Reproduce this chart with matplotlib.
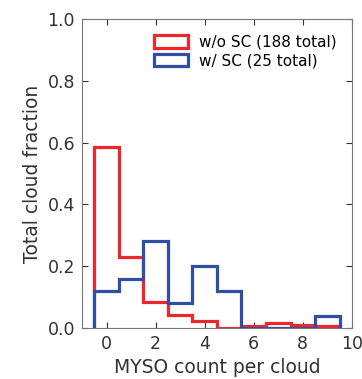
import numpy as np
import matplotlib
matplotlib.use('Agg')
import matplotlib.pyplot as plt

# MYSO counts per cloud, one bin per integer value
counts = np.arange(0, 10)
wo_sc = [110, 43, 16, 8, 4, 0, 1, 3, 2, 1]   # 188 clouds
w_sc = [3, 4, 7, 2, 5, 3, 0, 0, 0, 1]         # 25 clouds

edges = np.arange(-0.5, 10.5, 1)

fig = plt.figure(figsize=(3.62, 3.79), dpi=100)
ax = fig.add_axes([0.2265, 0.1346, 0.7455, 0.8154])

ax.hist(counts, bins=edges, weights=np.array(wo_sc) / sum(wo_sc),
        histtype='step', color='#f0262a', linewidth=2.3,
        label='w/o SC (%d total)' % sum(wo_sc))
ax.hist(counts, bins=edges, weights=np.array(w_sc) / sum(w_sc),
        histtype='step', color='#2f4ea6', linewidth=2.3,
        label='w/ SC (%d total)' % sum(w_sc))

ax.set_xlim(-1, 10)
ax.set_ylim(0, 1.0)
ax.set_xticks([0, 2, 4, 6, 8, 10])
ax.set_yticks([0.0, 0.2, 0.4, 0.6, 0.8, 1.0])
ax.tick_params(direction='in', top=True, right=True, labelsize=12.5,
               colors='#333333', length=4, pad=5)
for s in ax.spines.values():
    s.set_color('#777777')

ax.set_xlabel('MYSO count per cloud', fontsize=13.5, color='#333333')
ax.set_ylabel('Total cloud fraction', fontsize=13.5, color='#333333')

leg = ax.legend(loc='upper right', frameon=False, fontsize=11,
                handlelength=2.2, handleheight=0.9, handletextpad=0.7,
                borderaxespad=0.62, labelspacing=0.25)

fig.savefig('out.png', dpi=100)
